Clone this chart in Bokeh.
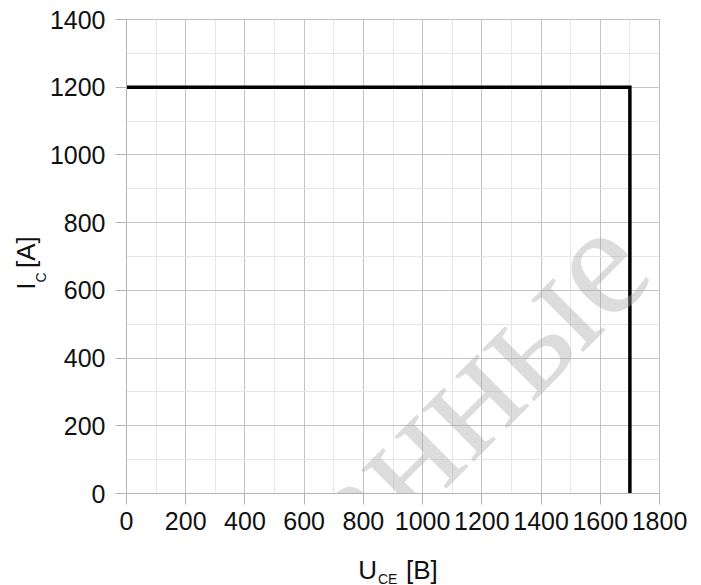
from bokeh.plotting import figure
from bokeh.models import Range1d, SingleIntervalTicker, Label, LabelSet, ColumnDataSource
from bokeh.embed import file_html
from bokeh.resources import INLINE

# data
voltage = [0, 1700, 1700]
current = [1200, 1200, 0]
NB = "\u00a0"
x_title = "U" + NB * 4 + "[B]"
x_title_sub = "CE"
y_title = "I" + NB * 2 + "[A]"
y_title_sub = "C"
watermark = ["данные"]
watermark_x = [1196]
watermark_y = [115]

FONT = "Liberation Sans"

p = figure(width=701, height=585, frame_width=533, frame_height=474,
           x_range=Range1d(0, 1800), y_range=Range1d(0, 1400),
           output_backend="svg", toolbar_location=None)
p.min_border_left = 126
p.min_border_right = 42
p.min_border_top = 19
p.min_border_bottom = 92
p.background_fill_color = "white"
p.border_fill_color = "white"
p.outline_line_color = "#c0c0c0"

p.xaxis.ticker = SingleIntervalTicker(interval=200, num_minor_ticks=2)
p.yaxis.ticker = SingleIntervalTicker(interval=200, num_minor_ticks=2)
p.xgrid.ticker = p.xaxis.ticker
p.ygrid.ticker = p.yaxis.ticker

for g in (p.xgrid, p.ygrid):
    g.grid_line_color = "#c4c4c4"
    g.grid_line_width = 1
    g.minor_grid_line_color = "#e6e6e6"
    g.minor_grid_line_width = 1

for ax in (p.xaxis, p.yaxis):
    ax.axis_line_color = "#b4b4b4"
    ax.major_tick_line_color = "#b4b4b4"
    ax.major_tick_out = 11
    ax.major_tick_in = 0
    ax.minor_tick_line_color = None
    ax.major_label_text_font = FONT
    ax.major_label_text_font_size = "25px"
    ax.major_label_text_color = "#111111"
p.xaxis.major_label_standoff = 7
p.yaxis.major_label_standoff = 10

p.line(voltage, current, line_color="black", line_width=3.5, line_join="miter")


def lab(x, y, text, size, side, angle=0):
    p.add_layout(Label(x=x, y=y, text=text,
                       text_font=FONT, text_font_size=size, text_color="#111111",
                       text_align="left", text_baseline="alphabetic",
                       angle=angle, angle_units="deg"), side)


# axis titles (data coordinates, placed outside the data area)
lab(783, -227, x_title, "26px", "below")
lab(849, -253, x_title_sub, "14px", "right")
lab(-338, 602, y_title, "26px", "left", 90)
lab(-288, 623, y_title_sub, "14px", "right", 90)

# watermark
wm_src = ColumnDataSource(dict(x=watermark_x, y=watermark_y, text=watermark))
p.add_layout(LabelSet(x="x", y="y", text="text", source=wm_src,
                      text_font=FONT, text_font_size="160px",
                      text_color="#a8a8a8", text_alpha=0.4,
                      text_align="center", text_baseline="alphabetic",
                      angle=45, angle_units="deg", level="overlay"))

open("out.html", "w").write(file_html(p, INLINE))
